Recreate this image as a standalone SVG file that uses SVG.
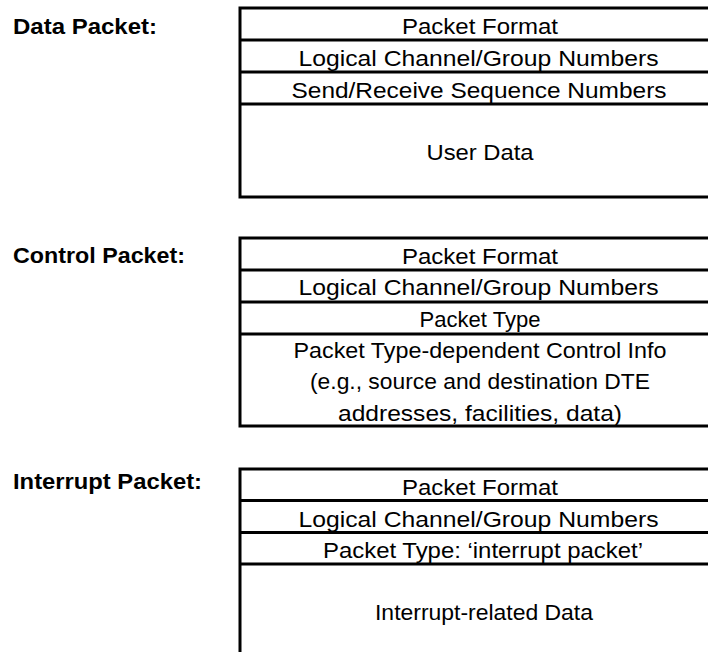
<svg xmlns="http://www.w3.org/2000/svg" width="708" height="652" viewBox="0 0 708 652">
  <style>
    .bg { fill: #ffffff; }
    .frame { fill: none; stroke: #000000; stroke-width: 3; stroke-linecap: square; }
    .label { font-family: "Liberation Sans", Arial, sans-serif; font-size: 21.5px; font-weight: bold; fill: #000000; }
    .field { font-family: "Liberation Sans", Arial, sans-serif; font-size: 22.5px; fill: #000000; text-anchor: middle; }
  </style>
  <rect class="bg" x="0" y="0" width="708" height="652"/>

  <g id="data-packet">
    <text class="label" x="13" y="33.5" textLength="144" lengthAdjust="spacingAndGlyphs">Data Packet:</text>
    <path class="frame" d="M720,8 H240 V197 H720 M240,40 H720 M240,72 H720 M240,104 H720"/>
    <text class="field" x="480" y="34" textLength="156" lengthAdjust="spacingAndGlyphs">Packet Format</text>
    <text class="field" x="478.5" y="65.5" textLength="360" lengthAdjust="spacingAndGlyphs">Logical Channel/Group Numbers</text>
    <text class="field" x="479" y="97.5" textLength="375" lengthAdjust="spacingAndGlyphs">Send/Receive Sequence Numbers</text>
    <text class="field" x="480" y="160" textLength="107" lengthAdjust="spacingAndGlyphs">User Data</text>
  </g>

  <g id="control-packet">
    <text class="label" x="13" y="262.5" textLength="172" lengthAdjust="spacingAndGlyphs">Control Packet:</text>
    <path class="frame" d="M720,238 H240 V426 H720 M240,270 H720 M240,302 H720 M240,334 H720"/>
    <text class="field" x="480" y="264" textLength="156" lengthAdjust="spacingAndGlyphs">Packet Format</text>
    <text class="field" x="478.5" y="295" textLength="360" lengthAdjust="spacingAndGlyphs">Logical Channel/Group Numbers</text>
    <text class="field" x="480" y="326.5" textLength="121" lengthAdjust="spacingAndGlyphs">Packet Type</text>
    <text class="field" x="480" y="357.5" textLength="373" lengthAdjust="spacingAndGlyphs">Packet Type-dependent Control Info</text>
    <text class="field" x="480" y="389" textLength="340" lengthAdjust="spacingAndGlyphs">(e.g., source and destination DTE</text>
    <text class="field" x="480" y="420.5" textLength="284" lengthAdjust="spacingAndGlyphs">addresses, facilities, data)</text>
  </g>

  <g id="interrupt-packet">
    <text class="label" x="13" y="488.5" textLength="189" lengthAdjust="spacingAndGlyphs">Interrupt Packet:</text>
    <path class="frame" d="M720,469 H240 V660 M240,500.5 H720 M240,532.5 H720 M240,564 H720"/>
    <text class="field" x="480" y="495" textLength="156" lengthAdjust="spacingAndGlyphs">Packet Format</text>
    <text class="field" x="478.5" y="526.5" textLength="360" lengthAdjust="spacingAndGlyphs">Logical Channel/Group Numbers</text>
    <text class="field" x="483" y="558" textLength="320" lengthAdjust="spacingAndGlyphs">Packet Type: ‘interrupt packet’</text>
    <text class="field" x="484" y="620" textLength="218" lengthAdjust="spacingAndGlyphs">Interrupt-related Data</text>
  </g>

  <g id="connectors"/>
</svg>
